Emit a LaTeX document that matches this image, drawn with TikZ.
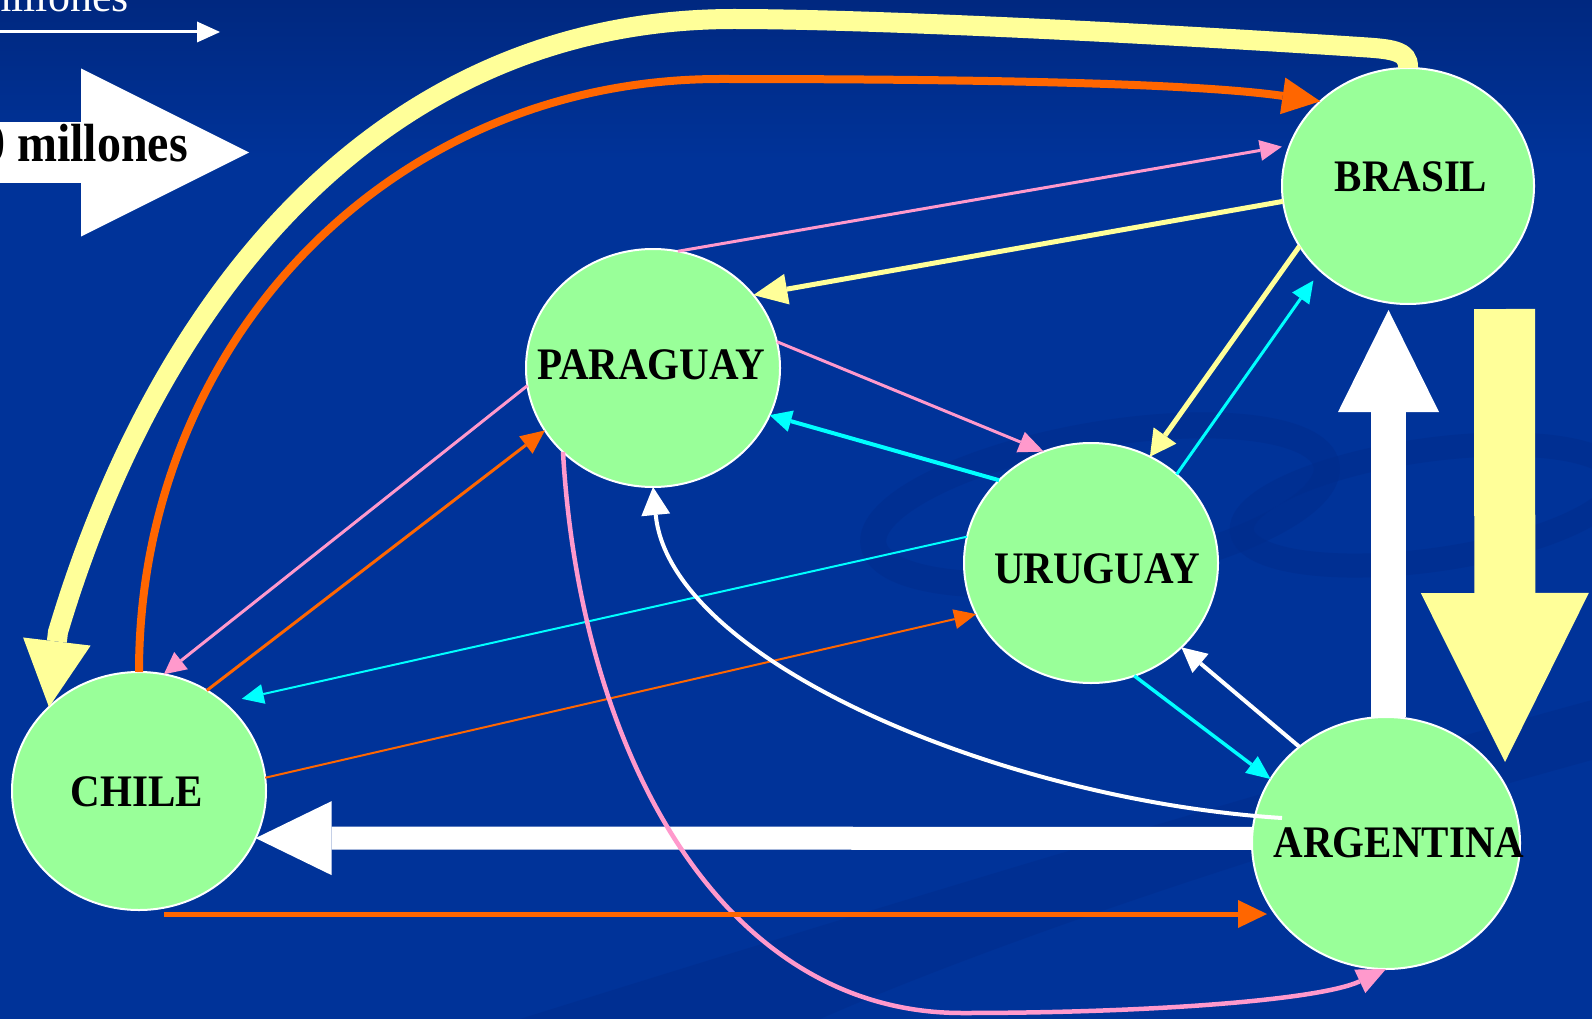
\documentclass[tikz,border=0pt]{standalone}
\usepackage{fontspec}
\setmainfont{Liberation Serif}
\usetikzlibrary{arrows.meta,calc,shapes.geometric}
\definecolor{bg}{RGB}{0,51,153}
\definecolor{bgtop}{RGB}{0,40,128}
\definecolor{swirl}{RGB}{0,44,140}
\definecolor{nodegreen}{RGB}{153,255,153}
\definecolor{cyel}{RGB}{255,255,153}
\definecolor{corange}{RGB}{255,102,0}
\definecolor{cpink}{RGB}{255,153,204}
\definecolor{ccyan}{RGB}{0,255,255}
\tikzset{
  country/.style={ellipse, draw=white, line width=2pt, fill=nodegreen, inner sep=0pt, outer sep=0pt},
  lbl/.style={font=\fontsize{41}{41}\selectfont\bfseries, text=black, inner sep=0pt},
  tipx/.style n args={2}{-{Triangle[length=#1pt,width=#2pt,line width=0pt]}},
}
\begin{document}
\begin{tikzpicture}[x=1pt,y=-1pt]
\useasboundingbox (0,0) rectangle (1592,1019);
\clip (0,0) rectangle (1592,1019);
\fill[bg] (0,0) rectangle (1592,1019);
\shade[top color=bgtop, bottom color=bg] (0,0) rectangle (1592,160);
% background swirls
\begin{scope}[color=swirl, opacity=.5]
\draw[line width=26pt, rotate around={10:(1100,505)}] (1100,505) ellipse [x radius=230, y radius=70];
\draw[line width=24pt, rotate around={8:(1430,505)}] (1430,505) ellipse [x radius=190, y radius=55];
\fill (520,1019) .. controls (900,900) and (1300,780) .. (1592,700) -- (1592,760) .. controls (1300,840) and (1000,940) .. (820,1019) -- cycle;
\end{scope}
% legend
\node[anchor=base east, font=\fontsize{44}{44}\selectfont, text=white, inner sep=0pt] (legA) at (129,12) {millones};
\draw[white, line width=3pt, tipx={23}{21}] (-5,32) -- (220,32);
\draw[white, line width=61pt, tipx={168}{168}] (-5,152.5) -- (249,152.5);
\node[anchor=base east, font=\fontsize{48}{48}\selectfont\bfseries, text=black, inner sep=0pt] (legB) at (188,162) {\scalebox{1}[1.12]{0 millones}};
% countries
\node[country, minimum width=254pt, minimum height=238pt] (chile) at (139,791) {};
\node[country, minimum width=252pt, minimum height=236pt] (brasil) at (1408,186) {};
\node[country, minimum width=254pt, minimum height=238pt] (paraguay) at (653,368) {};
\node[country, minimum width=254pt, minimum height=240pt] (uruguay) at (1091,563) {};
\node[country, minimum width=268pt, minimum height=252pt] (argentina) at (1386,843) {};
% big flows
\draw[cyel, line width=20pt, tipx={66}{68}] (brasil.north) .. controls (1409,50) and (1390,49) .. (1360,47) .. controls (1100,30) and (850,19) .. (734,19) .. controls (384,19) and (160,290) .. (58,632) -- (chile.137);
\draw[corange, line width=8pt, tipx={38}{37}] (chile.north) .. controls (139,342) and (390,79) .. (720,79) .. controls (1000,79) and (1200,84) .. (brasil.136);
\draw[white, line width=23pt, tipx={76}{74}] (argentina.178) -- (chile.338);
\draw[white, line width=35pt, tipx={102}{101}] ($(argentina.north)+(2.5,0)$) -- ($(brasil.south)+(-19.5,6)$);
\draw[cyel, line width=61pt, tipx={169}{168}] ($(brasil.south)+(96.5,5)$) -- ($(argentina.north)+(119,45)$);
% thin flows
\draw[cpink, line width=3pt, tipx={22}{21}, shorten >=8pt] (paraguay.78) -- (brasil.161);
\draw[cyel, line width=5pt, tipx={34}{31}] (brasil.187) -- (paraguay.36);
\draw[cpink, line width=3pt, tipx={25}{22}] (paraguay.12) -- (uruguay.113);
\draw[ccyan, line width=4pt, tipx={22}{22}] (uruguay.138) -- (paraguay.338);
\draw[cyel, line width=5pt, tipx={26}{28}] (brasil.209) -- (uruguay.61);
\draw[ccyan, line width=3pt, tipx={22}{21}, shorten >=12pt] (uruguay.46) -- (brasil.224);
\draw[cpink, line width=3pt, tipx={22}{22}] (paraguay.188) -- (chile.78);
\draw[corange, line width=3pt, tipx={24}{22}] (chile.56) -- (paraguay.210);
\draw[ccyan, line width=2pt, tipx={22}{20}, shorten >=18pt] (uruguay.168) -- (chile.46);
\draw[corange, line width=2pt, tipx={22}{20}] (chile.6) -- (uruguay.204);
\draw[white, line width=4pt, tipx={28}{29}] ($(argentina.center)+(-104,-25)$) .. controls (1000,800) and (670,660) .. (paraguay.south);
\draw[cpink, line width=4.5pt, tipx={29}{26}] (paraguay.223) .. controls (580,750) and (720,1013) .. (962,1013) .. controls (1150,1013) and (1320,1000) .. (argentina.south);
\draw[white, line width=4pt, tipx={25}{25}] (argentina.132) -- (uruguay.317);
\draw[ccyan, line width=3.5pt, tipx={24}{21}] (uruguay.291) -- (argentina.151);
\draw[corange, line width=5pt, tipx={29}{28}] ($(chile.south)+(25,4)$) -- ($(argentina.center)+(-119,71)$);
% labels
\node[lbl] (chileT) at (137,792) {\scalebox{1}[1.1]{CHILE}};
\node[lbl] (brasilT) at (1411,177) {\scalebox{1}[1.1]{BRASIL}};
\node[lbl] (paraguayT) at (651,365) {\scalebox{1}[1.1]{PARAGUAY}};
\node[lbl] (uruguayT) at (1097,569) {\scalebox{1}[1.1]{URUGUAY}};
\node[lbl] (argentinaT) at (1399,843) {\scalebox{1}[1.1]{ARGENTINA}};
\end{tikzpicture}
\end{document}
